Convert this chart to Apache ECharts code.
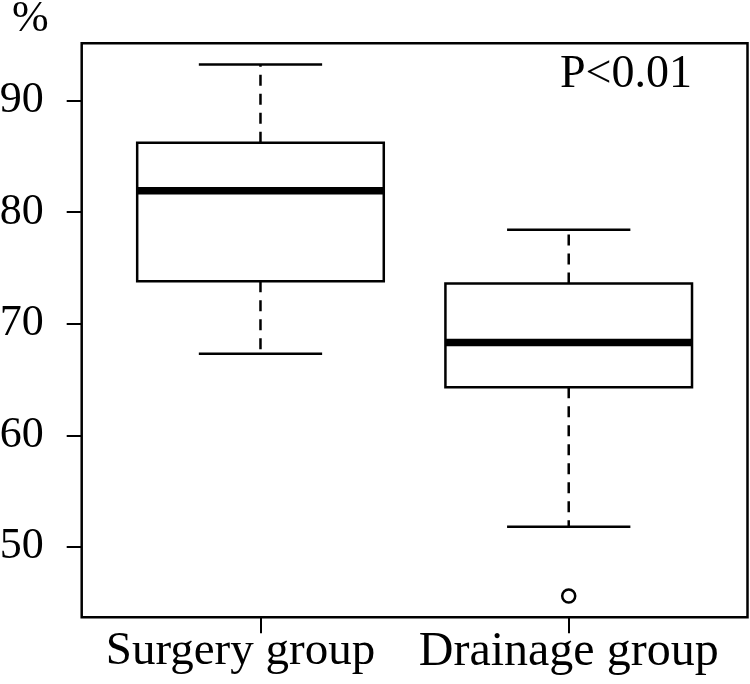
<!DOCTYPE html>
<html>
<head>
<meta charset="utf-8">
<script src="https://cdn.jsdelivr.net/npm/echarts@6/dist/echarts.min.js"></script>
<style>
html,body{margin:0;padding:0;background:#fff;}
#chart{width:750px;height:684px;}
</style>
</head>
<body>
<div id="chart"></div>
<script>
const categories = ['Surgery group', 'Drainage group'];
const whiskerLow = [67.3, 51.8];
const q1 = [73.8, 64.3];
const median = [81.9, 68.3];
const q3 = [86.2, 73.6];
const whiskerHigh = [93.2, 78.4];
const outlierGroup = [2];
const outlierValue = [45.6];
const yTicks = [50, 60, 70, 80, 90];
const pText = 'P<0.01';
const yUnit = '%';

const FONT = "'Liberation Serif','Times New Roman',serif";

const allVals = whiskerLow.concat(whiskerHigh, outlierValue);
const lo = Math.min.apply(null, allVals), hi = Math.max.apply(null, allVals);
const pad = (hi - lo) * 0.04;
const yMin = lo - pad, yMax = hi + pad;

const boxData = categories.map((c, i) => [i + 1, whiskerLow[i], q1[i], median[i], q3[i], whiskerHigh[i]]);
const outData = outlierGroup.map((g, i) => [g, outlierValue[i]]);

const chart = echarts.init(document.getElementById('chart'), null, {renderer: 'canvas'});

chart.setOption({
  animation: false,
  backgroundColor: '#fff',
  grid: {
    left: 81.7, top: 43.3, right: 2.5, bottom: 66.7,
    containLabel: false, outerBoundsMode: 'none',
    show: true, borderColor: '#000', borderWidth: 2.5, backgroundColor: 'transparent'
  },
  xAxis: {
    type: 'value', min: 0.42, max: 2.58,
    splitLine: {show: false},
    axisLine: {show: false},
    axisTick: {show: true, customValues: [1, 2], length: 16, lineStyle: {color: '#000', width: 2}},
    axisLabel: {
      customValues: [1, 2], margin: 11,
      formatter: v => {
        const i = Math.round(v) - 1;
        return i === 0 ? '{s|' + categories[0] + '}' : (categories[i] || '');
      },
      rich: {s: {padding: [0, 40, 0, 0], fontFamily: FONT, fontSize: 47, color: '#000'}},
      color: '#000', fontFamily: FONT, fontSize: 48
    }
  },
  yAxis: {
    type: 'value', min: yMin, max: yMax,
    splitLine: {show: false},
    axisLine: {show: false},
    axisTick: {show: true, customValues: yTicks, length: 15, lineStyle: {color: '#000', width: 2}},
    axisLabel: {
      customValues: yTicks, margin: 38,
      color: '#000', fontFamily: FONT, fontSize: 44
    }
  },
  graphic: [
    {type: 'text', style: {x: 12, y: -3, text: yUnit, font: '44px ' + FONT, fill: '#000', verticalAlign: 'top'}},
    {type: 'text', style: {x: 560, y: 52, text: pText, font: '46px ' + FONT, fill: '#000', verticalAlign: 'top'}}
  ],
  series: [
    {
      type: 'custom',
      data: boxData,
      encode: {x: 0, y: [1, 2, 3, 4, 5]},
      renderItem: function (params, api) {
        const x = api.value(0);
        const half = api.size([0.4, 0])[0];
        const capHalf = half / 2;
        const pLow = api.coord([x, api.value(1)]);
        const pQ1 = api.coord([x, api.value(2)]);
        const pMed = api.coord([x, api.value(3)]);
        const pQ3 = api.coord([x, api.value(4)]);
        const pHigh = api.coord([x, api.value(5)]);
        const cx = pMed[0];
        const solid = {stroke: '#000', lineWidth: 2.5, fill: null};
        const dashed = {stroke: '#000', lineWidth: 2.5, lineDash: [11, 8], fill: null};
        return {
          type: 'group',
          children: [
            {type: 'line', shape: {x1: cx, y1: pQ3[1], x2: cx, y2: pHigh[1]}, style: dashed},
            {type: 'line', shape: {x1: cx, y1: pQ1[1], x2: cx, y2: pLow[1]}, style: dashed},
            {type: 'line', shape: {x1: cx - capHalf, y1: pHigh[1], x2: cx + capHalf, y2: pHigh[1]}, style: solid},
            {type: 'line', shape: {x1: cx - capHalf, y1: pLow[1], x2: cx + capHalf, y2: pLow[1]}, style: solid},
            {type: 'rect', shape: {x: cx - half, y: pQ3[1], width: 2 * half, height: pQ1[1] - pQ3[1]},
              style: {stroke: '#000', lineWidth: 2.5, fill: '#fff'}},
            {type: 'line', shape: {x1: cx - half, y1: pMed[1], x2: cx + half, y2: pMed[1]},
              style: {stroke: '#000', lineWidth: 7.5}}
          ]
        };
      }
    },
    {
      type: 'scatter',
      data: outData,
      symbol: 'circle',
      symbolSize: 13,
      itemStyle: {color: '#fff', borderColor: '#000', borderWidth: 2.5, opacity: 1}
    }
  ]
});
</script>
</body>
</html>
